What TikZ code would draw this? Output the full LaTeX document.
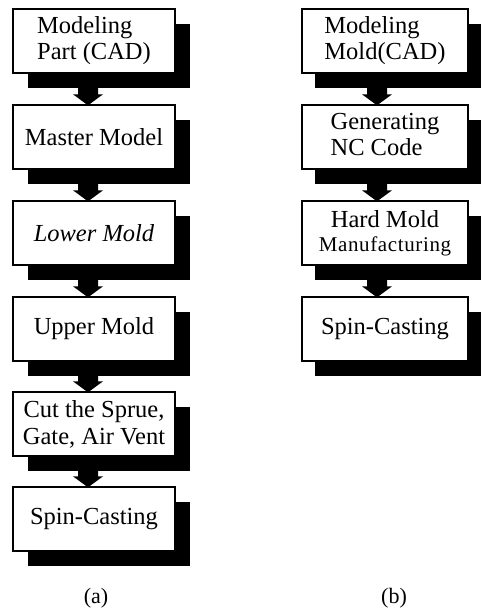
\documentclass[tikz,border=0pt]{standalone}
\usepackage{fontspec}
\setmainfont{Liberation Serif}
\usetikzlibrary{shadows,calc}
\newcommand{\boxfs}{\fontsize{24.5}{27}\selectfont}
\tikzset{
  flowbox/.style={draw, line width=1.3pt, fill=white, inner sep=0pt,
    minimum height=64pt, font=\boxfs, align=center},
  leftbox/.style={flowbox, minimum width=162pt,
    drop shadow={shadow xshift=15pt, shadow yshift=-15pt, fill=black, opacity=1}},
  rightbox/.style={flowbox, minimum width=166pt,
    drop shadow={shadow xshift=13pt, shadow yshift=-15pt, fill=black, opacity=1}},
  caplabel/.style={font=\fontsize{22}{24}\selectfont}
}
\newcommand{\blockarrow}[3]{%
  \fill[black] ($(#1.south)+(#3-10,12)$) -- ($(#2.north)+(#3-10,-10)$)
    -- ($(#2.north)+(#3-15,-10)$) -- ($(#2.north)+(#3,1)$)
    -- ($(#2.north)+(#3+15,-10)$) -- ($(#2.north)+(#3+10,-10)$)
    -- ($(#1.south)+(#3+10,12)$) -- cycle;}
\begin{document}
\begin{tikzpicture}[x=1pt,y=-1pt]
\useasboundingbox (0,0) rectangle (481,612);
% column (a)
\node[leftbox] (a1) at (94,41)  {\begin{tabular}{@{}l@{}}Modeling\\[-1pt]Part (CAD)\end{tabular}};
\node[leftbox] (a2) at (94,137) {Master Model};
\node[leftbox] (a3) at (94,233) {\itshape Lower Mold};
\node[leftbox] (a4) at (94,329) {Upper Mold};
\node[leftbox] (a5) at (94,424) {Cut the Sprue,\\Gate, Air Vent};
\node[leftbox] (a6) at (94,519) {Spin-Casting};
% column (b)
\node[rightbox] (b1) at (385,41)  {\begin{tabular}{@{}l@{}}Modeling\\[-1pt]Mold(CAD)\end{tabular}};
\node[rightbox] (b2) at (385,137) {\begin{tabular}{@{}l@{}}Generating\\[-1pt]NC Code\end{tabular}};
\node[rightbox] (b3) at (385,233) {Hard Mold\\[-3pt]{\fontsize{21}{24}\addfontfeature{LetterSpace=3}\selectfont Manufacturing}};
\node[rightbox] (b4) at (385,329) {Spin-Casting};
% arrows
\blockarrow{a1}{a2}{-6}
\blockarrow{a2}{a3}{-6}
\blockarrow{a3}{a4}{-6}
\blockarrow{a4}{a5}{-6}
\blockarrow{a5}{a6}{-6}
\blockarrow{b1}{b2}{-8}
\blockarrow{b2}{b3}{-8}
\blockarrow{b3}{b4}{-8}
% captions
\node[caplabel] (capa) at (96,598) {(a)};
\node[caplabel] (capb) at (394,598) {(b)};
\end{tikzpicture}
\end{document}
